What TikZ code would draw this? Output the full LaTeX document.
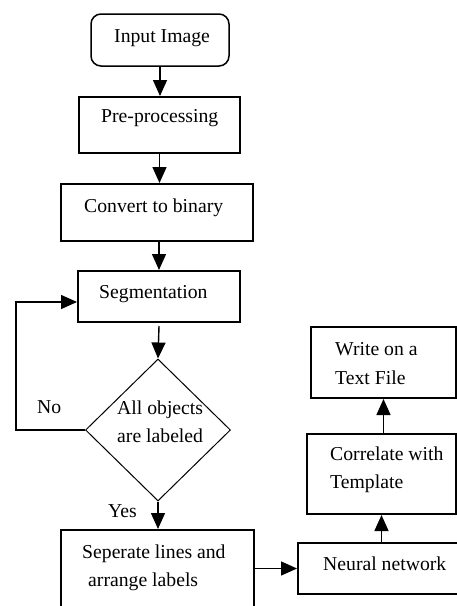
\documentclass[tikz,border=0pt]{standalone}
\usepackage{fontspec}
\setmainfont{Liberation Serif}
\usetikzlibrary{shapes.geometric,arrows.meta}
\begin{document}
\begin{tikzpicture}[x=1pt,y=-1pt,
  box/.style={draw,line width=2pt,inner sep=0pt},
  arr/.style={line width=1.4pt,-{Triangle[length=16pt,width=14pt]}},
  txt/.style={inner sep=0pt,anchor=west,text height=13.5pt,text depth=4.5pt,font=\fontsize{19.7pt}{23pt}\selectfont}]
\useasboundingbox (0,0) rectangle (457,606);
\fill[white] (0,0) rectangle (457,606);
% boxes
\node[box,rounded corners=10pt,line width=1.5pt,minimum width=138pt,minimum height=52pt] (inp) at (160,40) {};
\node[box,minimum width=161pt,minimum height=56pt] (pre) at (159.5,125) {};
\node[box,minimum width=192pt,minimum height=57pt] (conv) at (157,212.5) {};
\node[box,minimum width=162pt,minimum height=51pt] (seg) at (159,296.5) {};
\node[draw,line width=1pt,diamond,aspect=1,inner sep=0pt,minimum width=145pt,minimum height=142pt] (dia) at (158,430) {};
\node[box,minimum width=193pt,minimum height=82pt] (sep) at (157.5,571) {};
\node[box,minimum width=160pt,minimum height=51pt] (nn) at (378,568.5) {};
\node[box,minimum width=149pt,minimum height=80pt] (cor) at (381.5,474) {};
\node[box,minimum width=145pt,minimum height=71pt] (wri) at (383.5,362.5) {};
% texts
\node[txt] (tinp) at (114,38) {Input Image};
\node[txt] (tpre) at (101,118) {Pre-processing};
\node[txt] (tconv) at (84,208) {Convert to binary};
\node[txt] (tseg) at (99,294) {Segmentation};
\node[txt] (tdia1) at (117,410) {All objects};
\node[txt] (tdia2) at (117,438) {are labeled};
\node[txt] (tno) at (37,409) {No};
\node[txt] (tyes) at (108,513) {Yes};
\node[txt] (tsep1) at (82,554) {Seperate lines and};
\node[txt] (tsep2) at (88,582) {arrange labels};
\node[txt] (tnn) at (323,566) {Neural network};
\node[txt] (tcor1) at (330,456) {Correlate with};
\node[txt] (tcor2) at (330,484) {Template};
\node[txt] (twri1) at (335,351) {Write on a};
\node[txt] (twri2) at (335,380) {Text File};
% connectors
\coordinate (noc) at (16,430);
\draw[arr] (inp.south) -- (inp.south |- pre.north);
\draw[arr] (pre.south) -- (pre.south |- conv.north);
\draw[arr] (conv.south -| seg.north) -- (seg.north);
\draw[arr] ([yshift=-3pt]seg.south) -- (dia.north);
\draw[arr] (dia.south) -- (dia.south |- sep.north);
\draw[arr] (dia.west) -- (noc) |- ([yshift=-5.5pt]seg.west);
\draw[arr] (sep.east |- nn.west) -- (nn.west);
\draw[arr] (nn.north -| cor.south) -- (cor.south);
\draw[arr] (cor.north -| wri.south) -- (wri.south);
\end{tikzpicture}
\end{document}
